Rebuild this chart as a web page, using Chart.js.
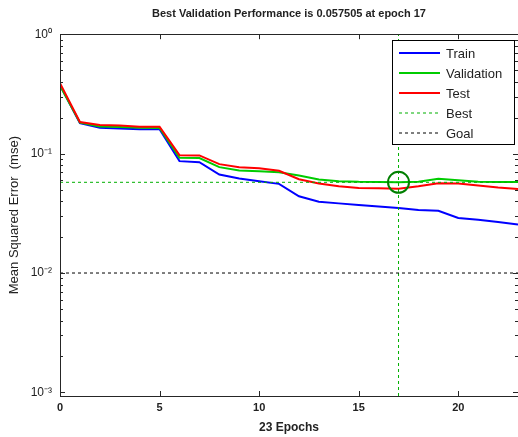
<!DOCTYPE html>
<html>
<head>
<meta charset="utf-8">
<script src="https://cdn.jsdelivr.net/npm/chart.js@4.4.0/dist/chart.umd.min.js"></script>
<style>
html, body { margin: 0; padding: 0; background: #fff; }
</style>
</head>
<body>
<canvas id="perfChart" width="518" height="437"></canvas>
<script>
// values
const epochs = [0, 1, 2, 3, 4, 5, 6, 7, 8, 9, 10, 11, 12, 13, 14, 15, 16, 17, 18, 19, 20, 21, 22, 23]
const trainPerf = [0.375, 0.180, 0.165, 0.162, 0.160, 0.160, 0.0865, 0.0848, 0.0668, 0.0618, 0.0587, 0.0558,
    0.0439, 0.0396, 0.0383, 0.0371, 0.0361, 0.0350, 0.0337, 0.0332, 0.0289, 0.0279, 0.0267, 0.0255]
const valPerf = [0.370, 0.182, 0.169, 0.167, 0.165, 0.164, 0.0924, 0.0917, 0.0770, 0.0722, 0.0712, 0.0699,
    0.0655, 0.0607, 0.0587, 0.0580, 0.0578, 0.057505, 0.0580, 0.0615, 0.0598, 0.0580, 0.0579, 0.0578]
const testPerf = [0.388, 0.184, 0.174, 0.172, 0.168, 0.168, 0.0971, 0.0966, 0.0816, 0.0770, 0.0755, 0.0718,
    0.0610, 0.0561, 0.0532, 0.0516, 0.0513, 0.0509, 0.0532, 0.0564, 0.0561, 0.0540, 0.0519, 0.0506]
const bestEpoch = 17
const bestPerf = 0.057505
const goalPerf = 0.01
const xTicks = [0, 5, 10, 15, 20]
const yDecades = [-3, -2, -1, 0]

const xMin = 0, xMax = 23
const yMin = Math.pow(10, -3.03), yMax = 1

const sup = { '0': '\u2070', '1': '\u00b9', '2': '\u00b2', '3': '\u00b3', '-': '\u207b' }
function decadeLabel(v) {
    let e = String(Math.round(Math.log10(v)))
    return '10' + e.split('').map(c => sup[c]).join('')
}

function toPoints(ys) {
    return epochs.map((e, i) => ({ x: e, y: ys[i] }))
}

Chart.defaults.font.family = '"Liberation Sans", Arial, sans-serif'
Chart.defaults.color = '#222'

// inward ticks, box and legend like the matlab figure
const matlabFrame = {
    id: 'matlabFrame',
    afterDraw(chart) {
        const ctx = chart.ctx
        const a = chart.chartArea
        const xs = chart.scales.x, ys = chart.scales.y
        ctx.save()
        ctx.strokeStyle = '#262626'
        ctx.lineWidth = 1
        ctx.beginPath()
        xTicks.forEach(v => {
            let px = Math.round(xs.getPixelForValue(v)) + 0.5
            ctx.moveTo(px, a.bottom); ctx.lineTo(px, a.bottom - 5)
            ctx.moveTo(px, a.top); ctx.lineTo(px, a.top + 5)
        })
        yDecades.forEach(d => {
            for (let m = 1; m < 10; m++) {
                let v = m * Math.pow(10, d)
                if (v < yMin || v > yMax) continue
                let py = Math.round(ys.getPixelForValue(v)) + 0.5
                let len = m === 1 ? 5 : 3
                ctx.moveTo(a.left, py); ctx.lineTo(a.left + len, py)
                ctx.moveTo(a.right, py); ctx.lineTo(a.right - len, py)
            }
        })
        ctx.stroke()
        ctx.strokeRect(Math.round(a.left) + 0.5, Math.round(a.top) + 0.5,
            Math.round(a.right - a.left), Math.round(a.bottom - a.top))

        // legend box
        const lx = 392, ly = 40, lw = 122, lh = 104
        ctx.fillStyle = '#fff'
        ctx.fillRect(lx, ly, lw, lh)
        ctx.strokeStyle = '#000'
        ctx.strokeRect(lx + 0.5, ly + 0.5, lw, lh)
        const rows = chart.data.datasets.filter(d => d.legendRow !== undefined)
            .sort((p, q) => p.legendRow - q.legendRow)
        ctx.font = '13px "Liberation Sans", Arial, sans-serif'
        ctx.textBaseline = 'middle'
        rows.forEach((d, i) => {
            let y = ly + 13 + i * 20
            ctx.strokeStyle = d.borderColor
            ctx.lineWidth = d.borderWidth
            ctx.setLineDash(d.borderDash || [])
            ctx.beginPath()
            ctx.moveTo(399, y); ctx.lineTo(440, y)
            ctx.stroke()
            ctx.setLineDash([])
            ctx.fillStyle = '#222'
            ctx.fillText(d.label, 446, y + 1)
        })
        ctx.restore()
    }
}

const ctx = document.getElementById('perfChart').getContext('2d')
const perfChart = new Chart(ctx, {
    type: 'line',
    data: {
        datasets: [
            {
                label: 'Best point', data: [{ x: bestEpoch, y: bestPerf }], showLine: false,
                pointRadius: 10.5, pointStyle: 'circle', pointBorderColor: '#007f00', pointBorderWidth: 2,
                pointBackgroundColor: 'rgba(0,0,0,0)', borderColor: '#007f00', order: 0
            },
            {
                label: 'Goal', legendRow: 4, data: [{ x: xMin, y: goalPerf }, { x: xMax, y: goalPerf }],
                borderColor: '#000', borderWidth: 1, borderDash: [3, 3], pointRadius: 0, order: 1
            },
            {
                label: 'Best', legendRow: 3, data: [{ x: xMin, y: bestPerf }, { x: xMax, y: bestPerf }],
                borderColor: '#00b000', borderWidth: 1, borderDash: [3, 3], pointRadius: 0, order: 2
            },
            {
                label: 'Best epoch', data: [{ x: bestEpoch, y: yMin }, { x: bestEpoch, y: yMax }],
                borderColor: '#00b000', borderWidth: 1, borderDash: [3, 3], pointRadius: 0, order: 3
            },
            {
                label: 'Test', legendRow: 2, data: toPoints(testPerf),
                borderColor: '#ff0000', borderWidth: 2, pointRadius: 0, order: 4
            },
            {
                label: 'Validation', legendRow: 1, data: toPoints(valPerf),
                borderColor: '#00cc00', borderWidth: 2, pointRadius: 0, order: 5
            },
            {
                label: 'Train', legendRow: 0, data: toPoints(trainPerf),
                borderColor: '#0000ff', borderWidth: 2, pointRadius: 0, order: 6
            }
        ]
    },
    options: {
        responsive: false,
        animation: false,
        layout: { autoPadding: false, padding: { left: 0, right: -2, top: 0, bottom: 0 } },
        plugins: {
            legend: { display: false },
            tooltip: { enabled: false },
            title: {
                display: true,
                fullSize: false,
                text: 'Best Validation Performance is 0.057505 at epoch 17',
                font: { size: 11, weight: 'bold' },
                color: '#222',
                padding: { top: 7, bottom: 14 }
            }
        },
        scales: {
            x: {
                type: 'linear', min: xMin, max: xMax,
                grid: { display: false, drawTicks: false },
                border: { display: false },
                afterBuildTicks: s => { s.ticks = xTicks.map(v => ({ value: v })) },
                afterFit: s => { s.height = 41; s.paddingLeft = 0; s.paddingRight = 0 },
                ticks: { font: { size: 11, weight: 'bold' }, color: '#222', padding: 5, maxRotation: 0 },
                title: {
                    display: true, text: '23 Epochs', color: '#222',
                    font: { size: 12, weight: 'bold' }, padding: { top: 0, bottom: 2 }
                }
            },
            y: {
                type: 'logarithmic', min: yMin, max: yMax,
                grid: { display: false, drawTicks: false },
                border: { display: false },
                afterBuildTicks: s => { s.ticks = yDecades.map(d => ({ value: Math.pow(10, d) })) },
                afterFit: s => { s.width = 60; s.paddingTop = 0; s.paddingBottom = 0 },
                ticks: { font: { size: 12 }, color: '#222', padding: 8, callback: v => decadeLabel(v) },
                title: {
                    display: true, text: 'Mean Squared Error  (mse)', color: '#222',
                    font: { size: 13 }, padding: { top: 7, bottom: 0 }
                }
            }
        }
    },
    plugins: [matlabFrame]
})
</script>
</body>
</html>
